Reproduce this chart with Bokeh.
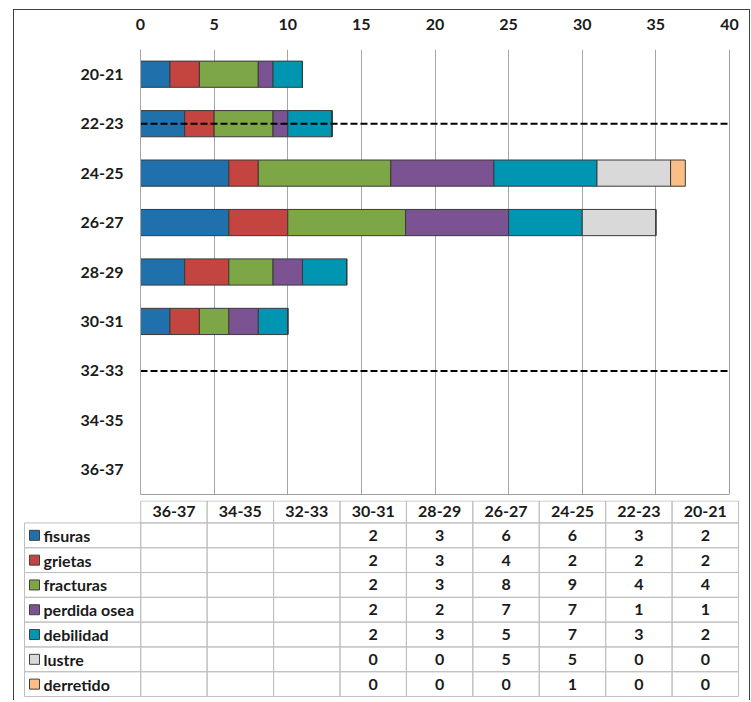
from bokeh.plotting import figure
from bokeh.layouts import column
from bokeh.models import Range1d, FactorRange, Span, ColumnDataSource
from bokeh.core.properties import value
from bokeh.embed import file_html
from bokeh.resources import INLINE

# ---------------- data ----------------
CATEGORIES = ["20-21", "22-23", "24-25", "26-27", "28-29", "30-31", "32-33", "34-35", "36-37"]
SERIES = ["fisuras", "grietas", "fracturas", "perdida osea", "debilidad", "lustre", "derretido"]
fisuras      = [2, 3, 6, 6, 3, 2, None, None, None]
grietas      = [2, 2, 2, 4, 3, 2, None, None, None]
fracturas    = [4, 4, 9, 8, 3, 2, None, None, None]
perdida_osea = [1, 1, 7, 7, 2, 2, None, None, None]
debilidad    = [2, 3, 7, 5, 3, 2, None, None, None]
lustre       = [0, 0, 5, 5, 0, 0, None, None, None]
derretido    = [0, 0, 1, 0, 0, 0, None, None, None]
X_TICKS = [0, 5, 10, 15, 20, 25, 30, 35, 40]
DASHED_AT = ["22-23", "32-33"]
TABLE_COLS = CATEGORIES[::-1]

VALUES = [fisuras, grietas, fracturas, perdida_osea, debilidad, lustre, derretido]
COLORS = ["#1F70AB", "#C4443F", "#7DA646", "#7C5392", "#0096B2", "#D9D9D9", "#FBBE86"]

FONT = value("Lato")
TXT = "#1A1A1A"
FS = "16px"
W = 735

# ---------------- chart ----------------
keys = ["s%d" % i for i in range(len(SERIES))]
bar_data = {"cat": CATEGORIES}
for k, vals in zip(keys, VALUES):
    bar_data[k] = [float("nan") if v is None else float(v) for v in vals]
bar_src = ColumnDataSource(bar_data)

p1 = figure(width=W, height=490,
            x_range=Range1d(X_TICKS[0], X_TICKS[-1]),
            y_range=FactorRange(factors=CATEGORIES[::-1], range_padding=0),
            x_axis_location="above",
            output_backend="svg", toolbar_location=None,
            min_border_left=126, min_border_right=20,
            min_border_top=39, min_border_bottom=6)
p1.frame_align = False
p1.outline_line_color = None

p1.hbar_stack(keys, y="cat", height=0.53, source=bar_src,
              fill_color=COLORS, line_color="#3A3A3A", line_width=1)

dash_src = ColumnDataSource(dict(y=DASHED_AT,
                                 x0=[X_TICKS[0]] * len(DASHED_AT),
                                 x1=[X_TICKS[-1]] * len(DASHED_AT)))
p1.segment(x0="x0", x1="x1", y0="y", y1="y", source=dash_src,
           line_color="black", line_width=2, line_dash="7 3")

p1.add_layout(Span(location=X_TICKS[-1], dimension="height", line_color="#404040", line_width=1))
p1.add_layout(Span(location=0, dimension="width", line_color="#404040", line_width=1))

p1.xaxis.ticker = X_TICKS
p1.xaxis.axis_line_color = None
p1.xaxis.major_tick_line_color = None
p1.xaxis.minor_tick_line_color = None
p1.xaxis.major_label_standoff = 14
p1.xaxis.major_label_text_font = "Lato"
p1.xaxis.major_label_text_font_style = "bold"
p1.xaxis.major_label_text_font_size = FS
p1.xaxis.major_label_text_color = TXT

p1.yaxis.axis_line_color = "#A6A6A6"
p1.yaxis.major_tick_line_color = None
p1.yaxis.minor_tick_line_color = None
p1.yaxis.major_label_standoff = 11
p1.yaxis.major_label_text_font = "Lato"
p1.yaxis.major_label_text_font_style = "bold"
p1.yaxis.major_label_text_font_size = FS
p1.yaxis.major_label_text_color = TXT

p1.xgrid.grid_line_color = "#A6A6A6"
p1.ygrid.grid_line_color = None

# ---------------- table ----------------
LEG_W = 1.75
HEAD_H = 0.885
n_cols = len(TABLE_COLS)
n_rows = len(SERIES)
pad_x = 2 / 66.4

p2 = figure(width=W, height=200,
            x_range=Range1d(-LEG_W - pad_x, n_cols + pad_x),
            y_range=Range1d(-0.16, n_rows + HEAD_H + 0.02),
            x_axis_location=None, y_axis_location=None,
            output_backend="svg", toolbar_location=None,
            min_border_left=8, min_border_right=9,
            min_border_top=0, min_border_bottom=0)
p2.frame_align = False
p2.outline_line_color = None
p2.grid.visible = False

L, R, B, T = [], [], [], []
for j in range(n_cols):
    L.append(j); R.append(j + 1); B.append(n_rows); T.append(n_rows + HEAD_H)
for i in range(n_rows):
    L.append(-LEG_W); R.append(0); B.append(n_rows - 1 - i); T.append(n_rows - i)
    for j in range(n_cols):
        L.append(j); R.append(j + 1); B.append(n_rows - 1 - i); T.append(n_rows - i)
p2.quad(left=L, right=R, bottom=B, top=T, fill_color=None,
        line_color="#BFBFBF", line_width=1)

# header
p2.text(x=[j + 0.5 for j in range(n_cols)], y=[n_rows + HEAD_H / 2] * n_cols,
        text=TABLE_COLS, text_align="center", text_baseline="middle",
        text_font=FONT, text_font_style="bold", text_font_size=FS, text_color=TXT)

# values
vx, vy, vt = [], [], []
for i, vals in enumerate(VALUES):
    for j, col in enumerate(TABLE_COLS):
        v = vals[CATEGORIES.index(col)]
        vx.append(j + 0.5); vy.append(n_rows - 0.5 - i)
        vt.append("" if v is None else str(v))
p2.text(x=vx, y=vy, text=vt, text_align="center", text_baseline="middle",
        text_font=FONT, text_font_style="bold", text_font_size=FS, text_color=TXT)

# legend column
ly = [n_rows - 0.5 - i for i in range(n_rows)]
p2.rect(x=[-LEG_W + 10 / 66.4] * n_rows, y=ly, width=10, height=10,
        width_units="screen", height_units="screen",
        fill_color=COLORS, line_color="#404040", line_width=1)
p2.text(x=[-LEG_W + 19 / 66.4] * n_rows, y=ly, text=SERIES,
        text_align="left", text_baseline="middle",
        text_font=FONT, text_font_style="bold", text_font_size=FS, text_color=TXT)

layout = column(p1, p2, spacing=0,
                styles={"border-top": "1px solid #404040",
                        "border-left": "1px solid #404040",
                        "border-right": "1px solid #404040",
                        "margin-left": "13px", "margin-top": "9px"})

open("out.html", "w").write(file_html(layout, INLINE))
